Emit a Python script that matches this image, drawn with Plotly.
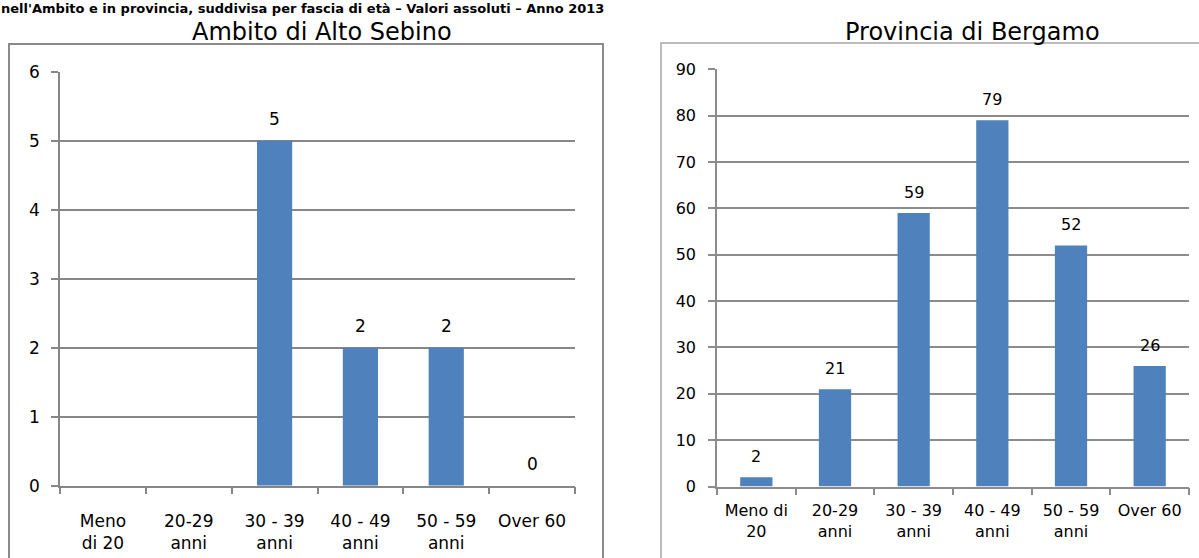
import plotly.graph_objects as go

# Age bands (two-line tick labels for each panel)
labels_ambito = ["Meno<br>di 20", "20-29<br>anni", "30 - 39<br>anni", "40 - 49<br>anni",
                 "50 - 59<br>anni", "Over 60"]
labels_provincia = ["Meno di<br>20", "20-29<br>anni", "30 - 39<br>anni", "40 - 49<br>anni",
                    "50 - 59<br>anni", "Over 60"]
categories = ["Meno di 20", "20-29 anni", "30 - 39 anni", "40 - 49 anni", "50 - 59 anni", "Over 60"]

# Values per age band (None = no value reported)
valori_ambito = [None, None, 5, 2, 2, 0]
valori_provincia = [2, 21, 59, 79, 52, 26]

ticks_ambito = [0, 1, 2, 3, 4, 5, 6]
ticks_provincia = [0, 10, 20, 30, 40, 50, 60, 70, 80, 90]

W, H = 1199, 558
BAR = "#4F81BD"
FONT = "DejaVu Sans"

fig = go.Figure()

fig.add_trace(go.Bar(x=categories, y=[v if v is not None else 0 for v in valori_ambito],
                     marker=dict(color=BAR, line=dict(width=0)),
                     xaxis="x", yaxis="y", showlegend=False, hoverinfo="skip"))
fig.add_trace(go.Bar(x=categories, y=valori_provincia,
                     marker=dict(color=BAR, line=dict(width=0)),
                     xaxis="x2", yaxis="y2", showlegend=False, hoverinfo="skip"))


def px_x(p):
    return p / W


def px_y(p):
    return (H - p) / H


def axis_style(size, color, standoff):
    return dict(showline=True, linecolor=color, linewidth=1.5, ticks="outside",
                tickcolor=color, ticklen=7, tickwidth=1.5, zeroline=False,
                automargin=False, ticklabelstandoff=standoff,
                tickfont=dict(family=FONT, size=size, color="#000000"))


fig.update_layout(
    width=W, height=H,
    margin=dict(l=0, r=0, t=0, b=0, autoexpand=False),
    paper_bgcolor="white", plot_bgcolor="white",
    bargap=0.59,
    xaxis=dict(domain=[px_x(60), px_x(575)], anchor="y", type="category",
               tickmode="array", tickvals=categories, ticktext=labels_ambito,
               tickson="boundaries", showgrid=False, **axis_style(17, "#868686", 19)),
    yaxis=dict(domain=[px_y(485.7), px_y(71.7)], anchor="x", range=[0, 6],
               tickvals=ticks_ambito, showgrid=True, gridcolor="#868686", gridwidth=1.5,
               **axis_style(17, "#868686", 8)),
    xaxis2=dict(domain=[px_x(717), px_x(1189)], anchor="y2", type="category",
                tickmode="array", tickvals=categories, ticktext=labels_provincia,
                tickson="boundaries", showgrid=False, **axis_style(16, "#8c8c8c", 9)),
    yaxis2=dict(domain=[px_y(486.5), px_y(69.3)], anchor="x2", range=[0, 90],
                tickvals=ticks_provincia, showgrid=True, gridcolor="#8c8c8c", gridwidth=1.5,
                **axis_style(16, "#8c8c8c", 9)),
)

# Panel frames
fig.add_shape(type="rect", xref="paper", yref="paper",
              x0=px_x(9), x1=px_x(603), y0=-0.2, y1=px_y(44),
              line=dict(color="#8a8a8a", width=2), fillcolor="rgba(0,0,0,0)", layer="below")
fig.add_shape(type="rect", xref="paper", yref="paper",
              x0=px_x(661), x1=1.02, y0=-0.2, y1=px_y(43),
              line=dict(color="#a6a6a6", width=1.5), fillcolor="rgba(0,0,0,0)", layer="below")

# Value labels above the bars
for cat, v in zip(categories, valori_ambito):
    if v is None:
        continue
    fig.add_annotation(x=cat, y=v, xref="x", yref="y", text=str(v), showarrow=False,
                       yanchor="bottom", yshift=10,
                       font=dict(family=FONT, size=17, color="#000000"))
for cat, v in zip(categories, valori_provincia):
    fig.add_annotation(x=cat, y=v, xref="x2", yref="y2", text=str(v), showarrow=False,
                       yanchor="bottom", yshift=9,
                       font=dict(family=FONT, size=16, color="#000000"))

# Panel titles
for xc, title in [(322, "Ambito di Alto Sebino"), (972, "Provincia di Bergamo")]:
    fig.add_annotation(x=px_x(xc), y=px_y(17), xref="paper", yref="paper",
                       xanchor="center", yanchor="top", borderpad=0,
                       text=title, showarrow=False,
                       font=dict(family=FONT, size=24, color="#000000"))

# Overall heading along the top edge
fig.add_annotation(x=0, y=1, xref="paper", yref="paper",
                   xanchor="left", yanchor="top", borderpad=0,
                   text="<b>nell'Ambito e in provincia, suddivisa per fascia di età – Valori assoluti – Anno 2013</b>",
                   showarrow=False, font=dict(family=FONT, size=13, color="#000000"))

fig.write_html("out.html")
